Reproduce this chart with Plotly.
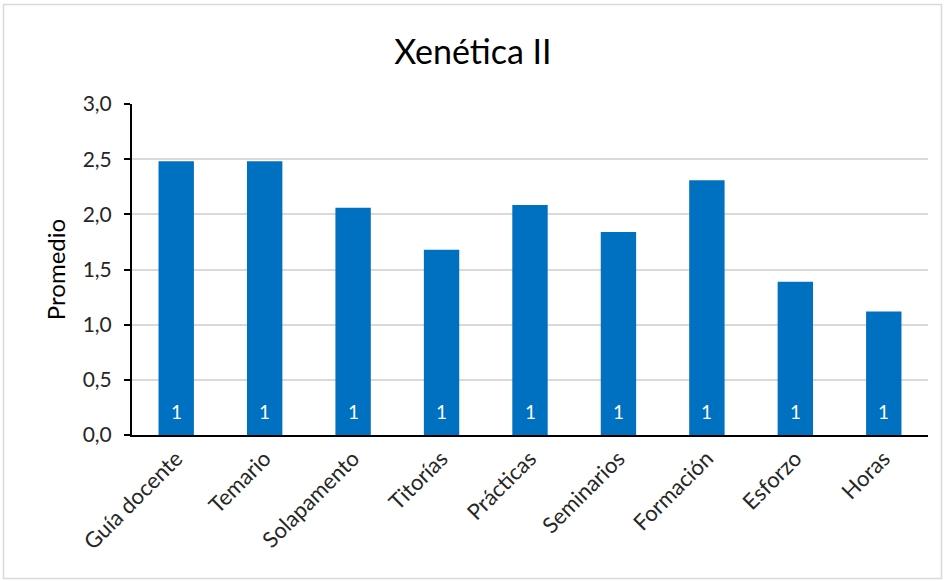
import plotly.graph_objects as go

categories = ["Guía docente", "Temario", "Solapamento", "Titorías", "Prácticas",
              "Seminarios", "Formación", "Esforzo", "Horas"]
promedio = [2.48, 2.48, 2.06, 1.68, 2.085, 1.84, 2.31, 1.39, 1.12]
counts = [1, 1, 1, 1, 1, 1, 1, 1, 1]
y_ticks = [0, 0.5, 1.0, 1.5, 2.0, 2.5, 3.0]

W, H = 946, 581
L, R, T, B = 132, 18, 104, 146
pw, ph = W - L - R, H - T - B

fig = go.Figure(go.Bar(
    x=categories, y=promedio,
    marker=dict(color="#0070C0", line=dict(width=0)),
    width=0.4, hoverinfo="x+y",
))

for cat, c in zip(categories, counts):
    fig.add_annotation(x=cat, y=0, xref="x", yref="y", text=str(c), showarrow=False,
                       yanchor="middle", yshift=24,
                       font=dict(color="white", size=19, family="Lato"))

def px2paper_x(px):
    return (px - L) / pw

def px2paper_y(py):
    return (H - B - py) / ph

fig.add_shape(type="rect", xref="paper", yref="paper",
              x0=px2paper_x(3.5), x1=px2paper_x(941.5),
              y0=px2paper_y(578.5), y1=px2paper_y(4.5),
              line=dict(color="#d9d9d9", width=1.5), fillcolor="rgba(0,0,0,0)", layer="below")

fig.update_layout(
    width=W, height=H,
    margin=dict(l=L, r=R, t=T, b=B),
    paper_bgcolor="white", plot_bgcolor="white",
    separators=",.",
    font=dict(family="Lato", size=20, color="#262626"),
    title=dict(text="Xenética II", x=0.5, xanchor="center", y=1 - 52 / H, yanchor="middle",
               font=dict(size=34, color="#000000", family="Lato")),
    showlegend=False,
    bargap=0.6,
    xaxis=dict(tickangle=-45, showline=True, linecolor="black", linewidth=2,
               ticks="", showgrid=False, tickfont=dict(size=22, color="#262626")),
    yaxis=dict(range=[0, 3.0], tickvals=y_ticks, tickformat=".1f",
               showline=True, linecolor="black", linewidth=2,
               ticks="outside", ticklen=6, tickwidth=2, tickcolor="black",
               showgrid=True, gridcolor="#d9d9d9", gridwidth=2,
               zeroline=False, ticklabelstandoff=8,
               title=dict(text="Promedio", font=dict(size=24, color="#000000"), standoff=10),
               tickfont=dict(size=21, color="#262626")),
)

fig.write_html("out.html", config={"displayModeBar": False},
               post_script="document.body.style.margin='0px';")
